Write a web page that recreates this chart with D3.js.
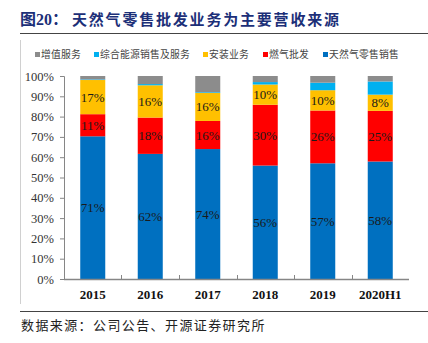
<!DOCTYPE html>
<html>
<head>
<meta charset="utf-8">
<script src="https://cdn.jsdelivr.net/npm/d3@7"></script>
<style>
  body { margin: 0; background: #fff; }
  svg { display: block; }
</style>
</head>
<body>
<script>
// revenue mix by business line, share of total
var years = ["2015", "2016", "2017", "2018", "2019", "2020H1"];
var seriesNames = ["天然气零售销售", "燃气批发", "安装业务", "综合能源销售及服务", "增值服务"];
var retail    = [71, 62, 74, 56, 57, 58];
var wholesale = [11, 18, 16, 30, 26, 25];
var install   = [17, 16, 16, 10, 10, 8];
var energy    = [0.3, 0.6, 0.4, 1.2, 3.7, 6.5];
var valueAdd  = [1.7, 4.0, 9.2, 3.0, 3.3, 2.7];
var yTicks = [0, 0.1, 0.2, 0.3, 0.4, 0.5, 0.6, 0.7, 0.8, 0.9, 1];
var labelled = ["天然气零售销售", "燃气批发", "安装业务"];

var colors = {
    "天然气零售销售": "#0070c0",
    "燃气批发": "#ff0000",
    "安装业务": "#ffc000",
    "综合能源销售及服务": "#00b0f0",
    "增值服务": "#8c8c8c"
};

var w = 428, h = 343;
var serif = "'Liberation Serif', 'Times New Roman', serif";
var cjk = "'Noto Sans CJK SC', sans-serif";

var svg = d3.select("body").append("svg")
    .attr("width", w)
    .attr("height", h);

// title + rules
svg.append("text")
    .attr("x", 20).attr("y", 25)
    .style("font-family", serif + ", " + cjk)
    .style("font-weight", "bold")
    .style("font-size", "16px")
    .style("fill", "#1c2f78")
    .text("图20：");
svg.append("text")
    .attr("x", 72).attr("y", 25)
    .style("font-family", cjk)
    .style("font-weight", "bold")
    .style("font-size", "15px")
    .style("letter-spacing", "1.8px")
    .style("fill", "#1c2f78")
    .text("天然气零售批发业务为主要营收来源");

svg.append("line")
    .attr("x1", 20).attr("x2", w).attr("y1", 33.5).attr("y2", 33.5)
    .style("stroke", "#444").style("stroke-width", 1.2);
svg.append("line")
    .attr("x1", 20.5).attr("x2", 20.5).attr("y1", 40).attr("y2", 304)
    .style("stroke", "#d0d0d0").style("stroke-width", 1);
svg.append("line")
    .attr("x1", 20).attr("x2", w).attr("y1", 311.5).attr("y2", 311.5)
    .style("stroke", "#444").style("stroke-width", 1.2);

svg.append("text")
    .attr("x", 21).attr("y", 330)
    .style("font-family", cjk)
    .style("font-size", "13px")
    .style("letter-spacing", "1.4px")
    .style("fill", "#222")
    .text("数据来源：公司公告、开源证券研究所");

// rows for stacking
var rows = years.map(function(y, i){
    return {
        year: y,
        "天然气零售销售": retail[i],
        "燃气批发": wholesale[i],
        "安装业务": install[i],
        "综合能源销售及服务": energy[i],
        "增值服务": valueAdd[i]
    };
});

var stack = d3.stack()
    .keys(seriesNames)
    .offset(d3.stackOffsetExpand);
var layers = stack(rows);

var x = d3.scaleBand()
    .domain(years)
    .range([64, 409])
    .paddingInner(0.565)
    .paddingOuter(0.2825);

var y = d3.scaleLinear()
    .domain([0, 1])
    .range([279, 76]);

// bars
var groups = svg.selectAll(".layer")
    .data(layers)
    .enter()
    .append("g")
    .attr("class", "layer")
    .style("fill", function(d){ return colors[d.key]; });

groups.selectAll("rect")
    .data(function(d){ return d; })
    .enter()
    .append("rect")
    .attr("x", function(d){ return x(d.data.year); })
    .attr("width", x.bandwidth())
    .attr("y", function(d){ return y(d[1]); })
    .attr("height", function(d){ return y(d[0]) - y(d[1]); });

// value labels in the middle of each big segment
groups.filter(function(d){ return labelled.indexOf(d.key) >= 0; })
    .selectAll("text")
    .data(function(d){
        return d.map(function(p){ return { p: p, key: d.key }; });
    })
    .enter()
    .append("text")
    .attr("x", function(d){ return x(d.p.data.year) + x.bandwidth() / 2; })
    .attr("y", function(d){ return (y(d.p[0]) + y(d.p[1])) / 2; })
    .attr("dy", "0.35em")
    .attr("text-anchor", "middle")
    .style("font-family", serif)
    .style("font-size", "13px")
    .style("fill", "#1a1a1a")
    .text(function(d){ return d.p.data[d.key] + "%"; });

// y axis
var yAxis = svg.append("g")
    .attr("transform", "translate(64,0)")
    .call(d3.axisLeft(y).tickValues(yTicks).tickFormat(d3.format(".0%")).tickSize(4).tickPadding(6));
yAxis.select(".domain").style("stroke", "#868686");
yAxis.selectAll(".tick line").style("stroke", "#868686");
yAxis.selectAll("text")
    .style("font-family", serif)
    .style("font-size", "12.5px")
    .style("fill", "#333");

// x axis: baseline, inner ticks at category boundaries, bold year labels
var xg = svg.append("g");
xg.append("line")
    .attr("x1", x.range()[0]).attr("x2", x.range()[1])
    .attr("y1", y(0) + 0.5).attr("y2", y(0) + 0.5)
    .style("stroke", "#868686").style("stroke-width", 1.3);
xg.selectAll(".bound")
    .data(years.slice(1))
    .enter()
    .append("line")
    .attr("class", "bound")
    .attr("x1", function(d){ return Math.round(x(d) + x.bandwidth() / 2 - x.step() / 2) + 0.5; })
    .attr("x2", function(d){ return Math.round(x(d) + x.bandwidth() / 2 - x.step() / 2) + 0.5; })
    .attr("y1", y(0) - 4).attr("y2", y(0))
    .style("stroke", "#868686");
xg.selectAll(".year")
    .data(years)
    .enter()
    .append("text")
    .attr("class", "year")
    .attr("x", function(d){ return x(d) + x.bandwidth() / 2; })
    .attr("y", 299)
    .attr("text-anchor", "middle")
    .style("font-family", serif)
    .style("font-weight", "bold")
    .style("font-size", "13px")
    .style("fill", "#111")
    .text(function(d){ return d; });

// legend, listed top of stack first, spread across the header row
var legendKeys = seriesNames.slice().reverse();
var legendX = [35, 94, 203, 263, 323];
var legend = svg.selectAll(".legend")
    .data(legendKeys)
    .enter()
    .append("g")
    .attr("class", "legend")
    .attr("transform", function(d, i){ return "translate(" + legendX[i] + ",0)"; });
legend.append("rect")
    .attr("y", 52)
    .attr("width", 5).attr("height", 5)
    .style("fill", function(d){ return colors[d]; });
legend.append("text")
    .attr("x", 6).attr("y", 58)
    .style("font-family", cjk)
    .style("font-size", "9.8px")
    .style("letter-spacing", "0.2px")
    .style("fill", "#444")
    .text(function(d){ return d; });
</script>
</body>
</html>
